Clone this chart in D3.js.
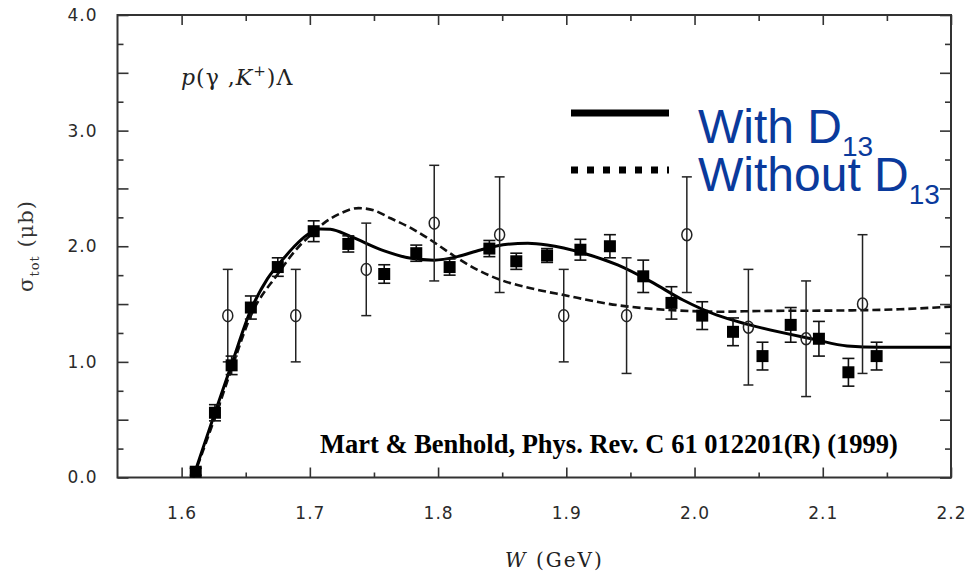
<!DOCTYPE html>
<html>
<head>
<meta charset="utf-8">
<script src="https://cdn.jsdelivr.net/npm/d3@7/dist/d3.min.js"></script>
<style>
  html, body { margin: 0; padding: 0; background: #fff; }
  svg { display: block; }
</style>
</head>
<body>
<svg id="chart" width="968" height="574"></svg>
<script>
// ---------------- DATA ----------------
// Filled squares (SAPHIR) : W (GeV), sigma (mub), error
const sqW = [1.611, 1.626, 1.639, 1.654, 1.675, 1.703, 1.730, 1.758, 1.783, 1.809, 1.840, 1.861, 1.885, 1.911, 1.934, 1.960, 1.982, 2.006, 2.030, 2.053, 2.075, 2.097, 2.120, 2.142];
const sqV = [0.05, 0.56, 0.97, 1.47, 1.82, 2.13, 2.02, 1.76, 1.94, 1.82, 1.98, 1.87, 1.92, 1.97, 2.00, 1.74, 1.51, 1.40, 1.26, 1.05, 1.32, 1.20, 0.91, 1.05];
const sqE = [0.03, 0.07, 0.08, 0.10, 0.08, 0.09, 0.07, 0.08, 0.07, 0.07, 0.07, 0.07, 0.06, 0.09, 0.10, 0.14, 0.14, 0.12, 0.12, 0.12, 0.15, 0.15, 0.12, 0.12];

// Open circles (older data)
const ocW = [1.636, 1.689, 1.744, 1.797, 1.848, 1.898, 1.947, 1.994, 2.042, 2.087, 2.131];
const ocV = [1.4, 1.4, 1.8, 2.2, 2.1, 1.4, 1.4, 2.1, 1.3, 1.2, 1.5];
const ocE = [0.4, 0.4, 0.4, 0.5, 0.5, 0.4, 0.5, 0.5, 0.5, 0.5, 0.6];

// Model curves
const withW = [1.609, 1.615, 1.626, 1.639, 1.654, 1.667, 1.680, 1.688, 1.698, 1.708, 1.716, 1.732, 1.758, 1.779, 1.797, 1.815, 1.833, 1.854, 1.870, 1.885, 1.9135, 1.940, 1.966, 1.991, 2.017, 2.043, 2.093, 2.119, 2.145, 2.200];
const withV = [0.0, 0.20, 0.56, 0.98, 1.45, 1.72, 1.90, 2.00, 2.10, 2.15, 2.147, 2.083, 1.96, 1.896, 1.88, 1.91, 1.968, 2.017, 2.025, 2.011, 1.94, 1.838, 1.694, 1.535, 1.406, 1.32, 1.196, 1.138, 1.126, 1.126];
const withoutW = [1.609, 1.615, 1.626, 1.639, 1.654, 1.675, 1.690, 1.700, 1.711, 1.725, 1.738, 1.750, 1.763, 1.780, 1.792, 1.812, 1.830, 1.849, 1.875, 1.898, 1.940, 1.980, 2.020, 2.050, 2.120, 2.160, 2.200];
const withoutV = [0.0, 0.18, 0.52, 0.94, 1.40, 1.76, 1.98, 2.09, 2.20, 2.29, 2.33, 2.31, 2.242, 2.15, 2.07, 1.92, 1.80, 1.708, 1.63, 1.578, 1.49, 1.449, 1.434, 1.44, 1.445, 1.455, 1.478];

// Ticks
const xMajor = [1.6, 1.7, 1.8, 1.9, 2.0, 2.1, 2.2];
const xTickLabels = ["1.6", "1.7", "1.8", "1.9", "2.0", "2.1", "2.2"];
const xMinor = [1.65, 1.75, 1.85, 1.95, 2.05, 2.15];
const yLabeled = [0, 1, 2, 3, 4];
const yTickLabels = ["0.0", "1.0", "2.0", "3.0", "4.0"];
const yMajor = [0, 0.5, 1, 1.5, 2, 2.5, 3, 3.5, 4];
const yMinor = [0.25, 0.75, 1.25, 1.75, 2.25, 2.75, 3.25, 3.75];

const legendLabels = ["With D", "Without D"];
const legendSubs = ["13", "13"];

// ---------------- DRAW ----------------
const svg = d3.select("#chart");
const L = 117.5, R = 951, T = 15, B = 477.5;
const x = d3.scaleLinear().domain([1.55, 2.2]).range([L, R]);
const y = d3.scaleLinear().domain([0, 4]).range([B, T]);

const axisColor = "#333";
const labelFont = "'DejaVu Sans', sans-serif";

function styleAxis(g) {
  g.select(".domain").remove();
  g.selectAll(".tick line").attr("stroke", axisColor).attr("stroke-width", 1.6);
  g.selectAll(".tick text").attr("fill", "#2a2a2a").style("font-family", labelFont)
    .style("font-size", "17px").style("letter-spacing", "1px");
}

// bottom axis
svg.append("g").attr("transform", `translate(0,${B})`)
  .call(d3.axisBottom(x).tickValues(xMajor).tickSize(-10).tickPadding(29)
    .tickFormat((d, i) => xTickLabels[i])).call(styleAxis);
svg.append("g").attr("transform", `translate(0,${B})`)
  .call(d3.axisBottom(x).tickValues(xMinor).tickSize(-5).tickFormat("")).call(styleAxis);
// top axis
svg.append("g").attr("transform", `translate(0,${T})`)
  .call(d3.axisTop(x).tickValues(xMajor).tickSize(-10).tickFormat("")).call(styleAxis);
svg.append("g").attr("transform", `translate(0,${T})`)
  .call(d3.axisTop(x).tickValues(xMinor).tickSize(-6).tickFormat("")).call(styleAxis);
// left axis
svg.append("g").attr("transform", `translate(${L},0)`)
  .call(d3.axisLeft(y).tickValues(yLabeled).tickSize(0).tickPadding(20)
    .tickFormat((d, i) => yTickLabels[i])).call(styleAxis);
svg.append("g").attr("transform", `translate(${L},0)`)
  .call(d3.axisLeft(y).tickValues(yMajor).tickSize(-11).tickFormat("")).call(styleAxis);
svg.append("g").attr("transform", `translate(${L},0)`)
  .call(d3.axisLeft(y).tickValues(yMinor).tickSize(-6).tickFormat("")).call(styleAxis);
// right axis
svg.append("g").attr("transform", `translate(${R},0)`)
  .call(d3.axisRight(y).tickValues(yMajor).tickSize(-11).tickFormat("")).call(styleAxis);
svg.append("g").attr("transform", `translate(${R},0)`)
  .call(d3.axisRight(y).tickValues(yMinor).tickSize(-6).tickFormat("")).call(styleAxis);

// frame
svg.append("rect").attr("x", L).attr("y", T).attr("width", R - L).attr("height", B - T)
  .attr("fill", "none").attr("stroke", axisColor).attr("stroke-width", 2);

// curves
const clipId = "plotclip";
svg.append("clipPath").attr("id", clipId).append("rect")
  .attr("x", L).attr("y", T).attr("width", R - L).attr("height", B - T);

const line = d3.line().x(d => x(d[0])).y(d => y(d[1])).curve(d3.curveMonotoneX);
const withData = withW.map((w, i) => [w, withV[i]]);
const withoutData = withoutW.map((w, i) => [w, withoutV[i]]);

const gc = svg.append("g").attr("clip-path", `url(#${clipId})`);
gc.append("path").datum(withoutData).attr("d", line).attr("fill", "none")
  .attr("stroke", "#111").attr("stroke-width", 2.6).attr("stroke-dasharray", "8,4");
gc.append("path").datum(withData).attr("d", line).attr("fill", "none")
  .attr("stroke", "#000").attr("stroke-width", 3);

// open circles with error bars
const ocData = ocW.map((w, i) => ({ w, v: ocV[i], e: ocE[i] }));
const go = svg.append("g").attr("stroke", "#222").attr("stroke-width", 1.5).attr("fill", "none");
go.selectAll("line.bar").data(ocData).join("line")
  .attr("x1", d => x(d.w)).attr("x2", d => x(d.w))
  .attr("y1", d => y(d.v - d.e)).attr("y2", d => y(d.v + d.e));
go.selectAll("line.capt").data(ocData).join("line")
  .attr("x1", d => x(d.w) - 5).attr("x2", d => x(d.w) + 5)
  .attr("y1", d => y(d.v + d.e)).attr("y2", d => y(d.v + d.e));
go.selectAll("line.capb").data(ocData).join("line")
  .attr("x1", d => x(d.w) - 5).attr("x2", d => x(d.w) + 5)
  .attr("y1", d => y(d.v - d.e)).attr("y2", d => y(d.v - d.e));
go.selectAll("ellipse").data(ocData).join("ellipse")
  .attr("cx", d => x(d.w)).attr("cy", d => y(d.v)).attr("rx", 5).attr("ry", 6);

// filled squares with error bars
const sqData = sqW.map((w, i) => ({ w, v: sqV[i], e: sqE[i] }));
const gs = svg.append("g");
const gsb = gs.append("g").attr("stroke", "#111").attr("stroke-width", 1.6);
gsb.selectAll("line.bar").data(sqData).join("line")
  .attr("x1", d => x(d.w)).attr("x2", d => x(d.w))
  .attr("y1", d => y(d.v - d.e)).attr("y2", d => y(d.v + d.e));
gsb.selectAll("line.capt").data(sqData).join("line")
  .attr("x1", d => x(d.w) - 6).attr("x2", d => x(d.w) + 6)
  .attr("y1", d => y(d.v + d.e)).attr("y2", d => y(d.v + d.e));
gsb.selectAll("line.capb").data(sqData).join("line")
  .attr("x1", d => x(d.w) - 6).attr("x2", d => x(d.w) + 6)
  .attr("y1", d => y(d.v - d.e)).attr("y2", d => y(d.v - d.e));
gs.selectAll("rect").data(sqData).join("rect")
  .attr("x", d => x(d.w) - 6).attr("y", d => y(d.v) - 6)
  .attr("width", 12).attr("height", 12).attr("fill", "#000");

// axis titles
const yt = svg.append("text").attr("transform", "translate(33,246) rotate(-90)")
  .attr("text-anchor", "middle").attr("fill", "#333")
  .style("font-family", "'DejaVu Serif', serif").style("font-size", "21px")
  .style("letter-spacing", "1px");
yt.append("tspan").text("σ");
yt.append("tspan").attr("dy", 6).style("font-size", "13px").text("tot");
yt.append("tspan").attr("dy", -6).text(" (μb)");

const xt = svg.append("text").attr("x", 505).attr("y", 567).attr("fill", "#222")
  .style("font-family", "'DejaVu Serif', serif").style("font-size", "20px").style("letter-spacing", "2px");
xt.append("tspan").style("font-style", "italic").text("W");
xt.append("tspan").text(" (GeV)");

// reaction label
const rl = svg.append("text").attr("x", 181).attr("y", 85).attr("fill", "#222")
  .style("font-family", "'DejaVu Serif', serif").style("font-size", "22px")
  .style("letter-spacing", "1px");
rl.append("tspan").style("font-style", "italic").text("p");
rl.append("tspan").text("(γ ,");
rl.append("tspan").style("font-style", "italic").text("K");
rl.append("tspan").attr("dy", -9).style("font-size", "15px").text("+");
rl.append("tspan").attr("dy", 9).text(")Λ");

// reference
svg.append("text").attr("x", 320).attr("y", 453).attr("fill", "#000")
  .style("font-family", "'Liberation Serif', 'Times New Roman', serif")
  .style("font-weight", "bold").style("font-size", "26.5px")
  .text("Mart & Benhold, Phys. Rev. C 61 012201(R) (1999)");

// legend
const legY = [113, 170];
const legDash = [null, "7,9"];
const legTextY = [143, 191];
legY.forEach((ly, i) => {
  const ln = svg.append("line").attr("x1", 571).attr("x2", 669).attr("y1", ly).attr("y2", ly)
    .attr("stroke", "#000").attr("stroke-width", 7);
  if (legDash[i]) ln.attr("stroke-dasharray", legDash[i]);
  const t = svg.append("text").attr("x", 698).attr("y", legTextY[i]).attr("fill", "#0a3a9c")
    .style("font-family", "'Liberation Sans', Arial, sans-serif").style("font-size", "48px");
  t.append("tspan").text(legendLabels[i]);
  t.append("tspan").attr("dy", 13).style("font-size", "28px").text(legendSubs[i]);
});
</script>
</body>
</html>
